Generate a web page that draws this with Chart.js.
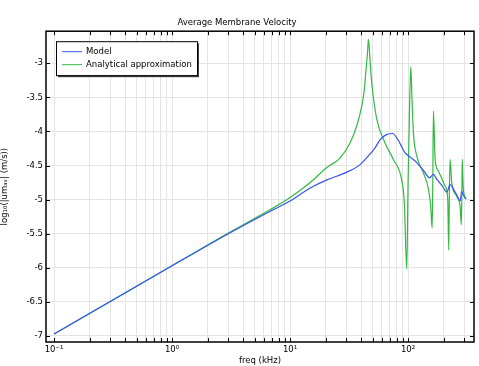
<!DOCTYPE html>
<html>
<head>
<meta charset="utf-8">
<script src="https://cdn.jsdelivr.net/npm/chart.js@4"></script>
<style>
  html, body { margin: 0; padding: 0; background: #fff; }
  #wrap { width: 479px; height: 366px; }
</style>
</head>
<body>
<div id="wrap"><canvas id="chart" width="479" height="366"></canvas></div>
<script>
// values (freq in kHz, log10 of velocity)
const modelFreq = [0.1, 1, 3, 6.8, 10, 14.8, 20.5, 30, 39, 46, 52.5, 58, 65, 74, 82, 88, 94, 105, 119, 135, 152, 164, 175, 195, 213, 227, 245, 262, 276, 285, 295, 310];
const modelVal  = [-6.97, -5.97, -5.50, -5.17, -5.02, -4.83, -4.71, -4.60, -4.49, -4.36, -4.24, -4.12, -4.05, -4.03, -4.12, -4.22, -4.31, -4.38, -4.46, -4.57, -4.68, -4.63, -4.70, -4.80, -4.89, -4.78, -4.86, -4.95, -5.02, -4.88, -4.94, -4.99];

const approxFreq = [0.1, 1, 3, 6.76, 10, 14.8, 20.5, 26.5, 32.2, 36.7, 40.5, 42.5, 44.0, 45.3, 46.1, 47.0, 48.0, 49.5, 54.3, 63.8, 75, 88.5, 93, 97.5, 100, 102.6, 105.5, 108, 111, 118.5, 135, 149, 155.6, 160, 162, 164, 169.5, 180.7, 206, 217, 221, 224, 227, 234.5, 258, 276, 283, 286, 288, 294, 310];
const approxVal  = [-6.97, -5.97, -5.49, -5.15, -4.97, -4.75, -4.53, -4.39, -4.17, -3.92, -3.63, -3.40, -3.10, -2.85, -2.65, -2.80, -3.05, -3.33, -3.82, -4.17, -4.41, -4.72, -5.05, -6.02, -4.75, -3.77, -3.05, -3.53, -4.02, -4.36, -4.61, -4.85, -5.10, -5.42, -4.75, -3.70, -4.41, -4.58, -4.80, -5.00, -5.74, -4.85, -4.41, -4.75, -4.95, -5.10, -5.37, -4.80, -4.41, -4.85, -4.99];

const yTicks = [-7, -6.5, -6, -5.5, -5, -4.5, -4, -3.5, -3];
const decadeLabels = { '0.1': '10⁻¹', '1': '10⁰', '10': '10¹', '100': '10²' };

const toPoints = (xs, ys) => xs.map((x, i) => ({ x: x, y: ys[i] }));

Chart.defaults.font.family = 'DejaVu Sans';
Chart.defaults.font.size = 8.5;
Chart.defaults.color = '#000';

// inward ticks, box frame and legend drawn in the COMSOL style
const framePlugin = {
    id: 'frame',
    afterDraw(chart) {
        const ctx = chart.ctx;
        const a = chart.chartArea;
        const xs = chart.scales.x, ys = chart.scales.y;
        ctx.save();
        ctx.strokeStyle = '#000';
        ctx.lineWidth = 1;
        ctx.beginPath();
        xs.ticks.forEach(t => {
            const px = Math.round(xs.getPixelForValue(t.value)) + 0.5;
            ctx.moveTo(px, a.bottom); ctx.lineTo(px, a.bottom - 4);
            ctx.moveTo(px, a.top); ctx.lineTo(px, a.top + 4);
        });
        ys.ticks.forEach(t => {
            const py = Math.round(ys.getPixelForValue(t.value)) + 0.5;
            ctx.moveTo(a.left, py); ctx.lineTo(a.left + 4, py);
            ctx.moveTo(a.right, py); ctx.lineTo(a.right - 4, py);
        });
        ctx.stroke();
        ctx.lineWidth = 1.5;
        ctx.strokeRect(a.left, a.top, a.right - a.left, a.bottom - a.top);

        // legend
        const lx = a.left + 10, ly = a.top + 10, lw = 141, lh = 34;
        ctx.fillStyle = '#444';
        ctx.fillRect(lx + 2, ly + 2, lw, lh);
        ctx.fillStyle = '#fff';
        ctx.fillRect(lx, ly, lw, lh);
        ctx.lineWidth = 1;
        ctx.strokeStyle = '#000';
        ctx.strokeRect(lx + 0.5, ly + 0.5, lw, lh);
        ctx.font = '8.5px DejaVu Sans';
        ctx.textBaseline = 'middle';
        chart.data.datasets.forEach((ds, i) => {
            const yy = ly + 10 + i * 13;
            ctx.strokeStyle = ds.borderColor;
            ctx.beginPath();
            ctx.moveTo(lx + 6, yy + 0.5); ctx.lineTo(lx + 26, yy + 0.5);
            ctx.stroke();
            ctx.fillStyle = '#000';
            ctx.fillText(ds.label, lx + 30, yy + 1);
        });
        ctx.restore();
    }
};

new Chart(document.getElementById('chart'), {
    type: 'scatter',
    data: {
        datasets: [{
            label: 'Model',
            data: toPoints(modelFreq, modelVal),
            borderColor: 'rgb(55, 85, 240)',
            showLine: true,
            borderWidth: 1.2,
            pointRadius: 0,
            cubicInterpolationMode: 'monotone'
        }, {
            label: 'Analytical approximation',
            data: toPoints(approxFreq, approxVal),
            borderColor: 'rgb(50, 185, 65)',
            showLine: true,
            borderWidth: 1.2,
            pointRadius: 0,
            cubicInterpolationMode: 'monotone'
        }]
    },
    options: {
        responsive: false,
        animation: false,
        layout: { padding: { left: 0, right: 5, top: 0, bottom: 0 } },
        plugins: {
            legend: { display: false },
            tooltip: { enabled: false },
            title: {
                display: true,
                text: 'Average Membrane Velocity',
                font: { size: 8.5, weight: 'normal' },
                padding: { top: 18, bottom: 3 }
            }
        },
        scales: {
            x: {
                type: 'logarithmic',
                min: 0.0855,
                max: 362,
                afterBuildTicks(scale) {
                    const ticks = [];
                    for (let d = 0.1; d <= 100; d *= 10) {
                        for (let m = 1; m <= 9; m++) {
                            const v = +(m * d).toPrecision(3);
                            if (v <= 362) ticks.push({ value: v });
                        }
                    }
                    scale.ticks = ticks;
                },
                afterFit(scale) { scale.height = 24; },
                ticks: {
                    autoSkip: false,
                    maxRotation: 0,
                    padding: 3,
                    callback: v => decadeLabels[String(v)] || ''
                },
                grid: { color: 'rgb(228, 228, 228)', drawTicks: false },
                border: { display: false },
                title: { display: true, text: 'freq (kHz)', padding: { top: 0, bottom: 0 } }
            },
            y: {
                min: -7.088,
                max: -2.53,
                afterBuildTicks(scale) {
                    scale.ticks = yTicks.map(v => ({ value: v }));
                },
                afterFit(scale) { scale.width = 46; },
                ticks: {
                    padding: 3,
                    callback: v => String(v)
                },
                grid: { color: 'rgb(228, 228, 228)', drawTicks: false },
                border: { display: false },
                title: { display: true, text: 'log₁₀(|umₐᵥ| (m/s))', padding: { top: 0, bottom: 2 } }
            }
        }
    },
    plugins: [framePlugin]
});
</script>
</body>
</html>
